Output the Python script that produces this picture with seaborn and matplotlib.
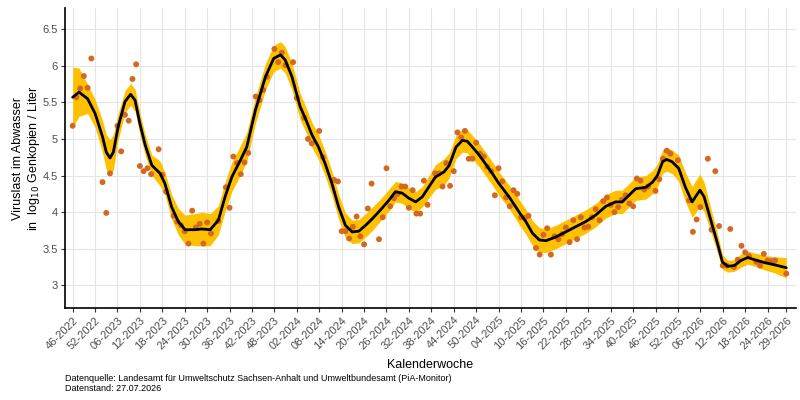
import datetime
import numpy as np
import pandas as pd
import matplotlib
matplotlib.use("Agg")
import matplotlib.pyplot as plt
import seaborn as sns

# Messwerte: Woche seit KW 46-2022 und log10 Genkopien / Liter
mess_woche = [0, 1, 2, 3, 4, 5, 8, 9, 10, 12, 13, 14, 15, 16, 17, 18, 19, 20, 21, 23,
              24, 25, 27, 28, 29, 30, 31, 32, 33, 34, 35, 36, 37, 39, 41, 42, 43, 44, 45, 46,
              47, 49, 50, 51, 52, 54, 55, 56, 57, 59, 60, 62, 63, 64, 66, 67, 70, 71, 72, 73,
              74, 75, 76, 77, 78, 79, 80, 82, 83, 84, 85, 86, 87, 88, 89, 90, 91, 92, 93, 94,
              95, 97, 98, 99, 100, 101, 102, 103, 104, 105, 106, 107, 108, 109, 110, 111, 112, 113, 114, 115,
              116, 117, 118, 119, 120, 121, 122, 124, 125, 126, 127, 128, 129, 130, 131, 132, 133, 134, 135, 136,
              137, 138, 139, 140, 141, 142, 143, 144, 145, 146, 147, 148, 149, 150, 151, 152, 153, 154, 156, 157,
              158, 159, 160, 162, 165, 166, 167, 168, 170, 171, 172, 173, 174, 175, 176, 177, 178, 179, 180, 181,
              183, 184, 185, 186, 187, 188, 191]
mess_wert = [5.18, 5.57, 5.69, 5.86, 5.70, 6.10, 4.41, 3.99, 4.53, 5.18, 4.83, 5.33, 5.25, 5.82, 6.02, 4.63, 4.56, 4.60, 4.52, 4.86,
             4.51, 4.28, 3.95, 3.87, 3.82, 3.74, 3.57, 4.02, 3.79, 3.84, 3.57, 3.86, 3.71, 3.88, 4.34, 4.06, 4.76, 4.67, 4.52, 4.68,
             4.81, 5.58, 5.53, 5.67, 5.85, 6.23, 6.05, 6.18, 6.01, 6.05, 5.56, 5.29, 5.00, 4.94, 5.11, 4.75, 4.44, 4.42, 3.74, 3.74,
             3.64, 3.80, 3.94, 3.67, 3.56, 4.05, 4.39, 3.63, 3.93, 4.60, 4.08, 4.19, 4.25, 4.35, 4.35, 4.06, 4.30, 3.98, 3.98, 4.43,
             4.10, 4.53, 4.53, 4.35, 4.67, 4.36, 4.56, 5.09, 5.02, 5.11, 4.73, 4.73, 4.95, 4.80, 4.76, 4.62, 4.56, 4.23, 4.60, 4.42,
             4.20, 4.08, 4.30, 4.25, 3.93, 3.92, 3.95, 3.51, 3.42, 3.69, 3.78, 3.42, 3.67, 3.63, 3.70, 3.79, 3.59, 3.89, 3.63, 3.93,
             3.79, 3.80, 3.93, 4.04, 3.89, 4.15, 4.20, 4.10, 4.00, 4.07, 4.17, 4.23, 4.12, 4.08, 4.46, 4.43, 4.31, 4.35, 4.29, 4.45,
             4.73, 4.84, 4.80, 4.71, 4.16, 3.73, 3.90, 4.07, 4.73, 3.76, 4.56, 3.81, 3.27, 3.27, 3.77, 3.25, 3.35, 3.54, 3.45, 3.40,
             3.32, 3.27, 3.43, 3.34, 3.33, 3.34, 3.16]

# geglaetteter Verlauf mit halber Breite des Konfidenzbandes
fit_woche = [0, 1.7, 4, 6, 8, 9, 10, 10.9, 12.2, 14, 15.5, 16.7, 18, 19.4, 21.2, 23.4, 24.7, 26.5, 28.3, 30.1,
             32.8, 34.6, 36.8, 39, 40.8, 42.6, 44.9, 46.6, 48.9, 51.6, 53.8, 55.6, 56.9, 58.7, 60.9, 62.3, 64.1, 65.8, 67.6, 69.4,
             71.2, 73, 74.8, 76.6, 78.4, 80.2, 82.4, 84.6, 86.4, 88.2, 90, 91.8, 93.6, 95.4, 97.1, 99.4, 100.8, 102.6, 104.3, 105.6,
             107, 108.8, 110.5, 112.3, 114.1, 116.8, 119.5, 121.3, 123.1, 124.9, 126.7, 129.3, 132, 134.6, 137.3, 140, 142.7, 145.3, 147.1, 148.9,
             150.7, 153.4, 155.2, 156.5, 157.9, 159, 160.4, 162.2, 164, 165.8, 166.7, 167.9, 169, 170.8, 172.6, 173.9, 175.3, 177.1, 178.9, 180.7,
             182.5, 185.2, 187.9, 191]
fit_wert = [5.57, 5.64, 5.55, 5.35, 5.03, 4.82, 4.74, 4.82, 5.17, 5.51, 5.61, 5.53, 5.21, 4.92, 4.64, 4.53, 4.39, 4.07, 3.87, 3.76,
            3.76, 3.77, 3.76, 3.89, 4.21, 4.48, 4.71, 4.89, 5.39, 5.85, 6.10, 6.15, 6.08, 5.85, 5.44, 5.28, 5.05, 4.89, 4.66, 4.39,
            4.07, 3.82, 3.73, 3.74, 3.82, 3.91, 4.03, 4.16, 4.28, 4.26, 4.19, 4.14, 4.21, 4.35, 4.48, 4.55, 4.64, 4.89, 4.98, 4.97,
            4.89, 4.78, 4.66, 4.53, 4.39, 4.21, 4.00, 3.87, 3.71, 3.62, 3.61, 3.66, 3.73, 3.80, 3.87, 3.96, 4.08, 4.14, 4.14, 4.23,
            4.32, 4.34, 4.41, 4.50, 4.69, 4.72, 4.69, 4.60, 4.34, 4.14, 4.21, 4.30, 4.21, 3.89, 3.57, 3.32, 3.26, 3.27, 3.34, 3.38,
            3.35, 3.31, 3.28, 3.24]
fit_band = [0.41, 0.33, 0.20, 0.19, 0.22, 0.24, 0.25, 0.24, 0.18, 0.15, 0.15, 0.15, 0.15, 0.14, 0.14, 0.17, 0.15, 0.17, 0.18, 0.20,
            0.22, 0.23, 0.22, 0.20, 0.20, 0.20, 0.20, 0.20, 0.18, 0.18, 0.18, 0.18, 0.18, 0.18, 0.18, 0.17, 0.17, 0.17, 0.17, 0.17,
            0.17, 0.17, 0.16, 0.16, 0.16, 0.16, 0.15, 0.15, 0.14, 0.14, 0.14, 0.14, 0.14, 0.15, 0.17, 0.18, 0.17, 0.16, 0.16, 0.16,
            0.16, 0.16, 0.16, 0.16, 0.16, 0.16, 0.17, 0.17, 0.17, 0.17, 0.16, 0.16, 0.16, 0.16, 0.16, 0.16, 0.16, 0.16, 0.16, 0.16,
            0.16, 0.16, 0.16, 0.16, 0.16, 0.16, 0.16, 0.18, 0.20, 0.21, 0.22, 0.22, 0.20, 0.16, 0.13, 0.10, 0.08, 0.08, 0.09, 0.09,
            0.09, 0.10, 0.11, 0.14]

tick_labels = ["46-2022", "52-2022", "06-2023", "12-2023", "18-2023", "24-2023", "30-2023", "36-2023",
               "42-2023", "48-2023", "02-2024", "08-2024", "14-2024", "20-2024", "26-2024", "32-2024",
               "38-2024", "44-2024", "50-2024", "04-2025", "10-2025", "16-2025", "22-2025", "28-2025",
               "34-2025", "40-2025", "46-2025", "52-2025", "06-2026", "12-2026", "18-2026", "24-2026",
               "29-2026"]
y_ticks = [3, 3.5, 4, 4.5, 5, 5.5, 6, 6.5]


def kw_index(label):
    # Kalenderwoche "WW-YYYY" -> Wochen seit KW 46-2022
    kw, jahr = label.split("-")
    start = datetime.date.fromisocalendar(2022, 46, 1)
    d = datetime.date.fromisocalendar(int(jahr), int(kw), 1)
    return (d - start).days // 7


punkte = pd.DataFrame({"woche": mess_woche, "wert": mess_wert})
fit = pd.DataFrame({"woche": fit_woche, "wert": fit_wert, "band": fit_band})
fit["unten"] = fit["wert"] - fit["band"]
fit["oben"] = fit["wert"] + fit["band"]

sns.set_theme(style="whitegrid")
plt.rcParams["font.family"] = ["Liberation Sans", "DejaVu Sans"]

fig = plt.figure(figsize=(8, 4), dpi=100)
ax = fig.add_axes([0.081, 0.23, 0.914, 0.75])

ax.fill_between(fit["woche"], fit["unten"], fit["oben"], color="#FFC000", linewidth=0, zorder=2)
sns.scatterplot(data=punkte, x="woche", y="wert", ax=ax, color="#D2691E", s=18,
                edgecolor="none", zorder=3)
sns.lineplot(data=fit, x="woche", y="wert", ax=ax, color="black", linewidth=2, zorder=4)

ax.set_xlim(-2.1, 193.6)
ax.set_ylim(2.69, 6.79)
ax.set_xticks([kw_index(t) for t in tick_labels])
ax.set_xticklabels(tick_labels, rotation=45, ha="right", rotation_mode="anchor")
ax.set_yticks(y_ticks)
ax.set_yticklabels([f"{v:g}" for v in y_ticks])
ax.tick_params(axis="both", labelsize=8, colors="#4D4D4D", length=3, width=0.8,
               bottom=True, left=True, pad=2)
ax.tick_params(axis="both", color="#333333")

ax.grid(True, color="#E5E5E5", linewidth=0.8)
for side in ["top", "right"]:
    ax.spines[side].set_visible(False)
for side in ["left", "bottom"]:
    ax.spines[side].set_color("black")
    ax.spines[side].set_linewidth(1.2)

ax.set_xlabel("Kalenderwoche", fontsize=9, color="black", labelpad=6)
ax.set_ylabel("Viruslast im Abwasser\nin  log$_{10}$ Genkopien / Liter", fontsize=9,
              color="black", labelpad=0)

fig.text(0.081, 0.065, "Datenquelle: Landesamt für Umweltschutz Sachsen-Anhalt und Umweltbundesamt (PiA-Monitor)\n"
         "Datenstand: 27.07.2026", fontsize=6.5, color="black", linespacing=1.1, va="top")

fig.savefig("out.png", dpi=100, facecolor="white")
